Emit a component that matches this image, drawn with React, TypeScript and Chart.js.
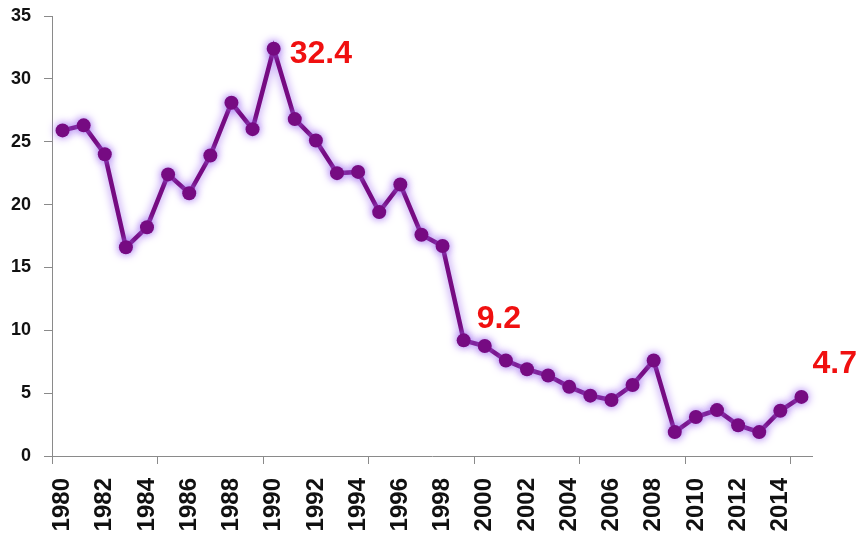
import { useEffect, useRef } from "react";
import { Chart, registerables } from "chart.js";

Chart.register(...registerables);

const years = [
  "1980", "1981", "1982", "1983", "1984", "1985", "1986", "1987", "1988", "1989",
  "1990", "1991", "1992", "1993", "1994", "1995", "1996", "1997", "1998", "1999",
  "2000", "2001", "2002", "2003", "2004", "2005", "2006", "2007", "2008", "2009",
  "2010", "2011", "2012", "2013", "2014", "2015",
];

const values = [
  25.9, 26.3, 24.0, 16.6, 18.2, 22.4, 20.9, 23.9, 28.1, 26.0,
  32.4, 26.8, 25.1, 22.5, 22.6, 19.4, 21.6, 17.6, 16.7, 9.2,
  8.75, 7.6, 6.9, 6.4, 5.5, 4.8, 4.45, 5.65, 7.6, 1.9,
  3.1, 3.65, 2.45, 1.9, 3.6, 4.7,
];

const yTicks = [0, 5, 10, 15, 20, 25, 30, 35];

const calloutIndex = [10, 19, 35];
const calloutText = ["32.4", "9.2", "4.7"];

const calloutOffsets = [
  { dx: 16, dy: 14 },
  { dx: 13, dy: -12 },
  { dx: 11, dy: -24 },
];

const glowPlugin = {
  id: "glow",
  beforeDatasetsDraw(chart: any) {
    const ctx = chart.ctx;
    ctx.save();
    ctx.shadowColor = "rgba(160, 110, 240, 1)";
    ctx.shadowBlur = 10;
    ctx.shadowOffsetX = 0;
    ctx.shadowOffsetY = 0;
  },
  afterDatasetsDraw(chart: any) {
    const ctx = chart.ctx;
    ctx.restore();
    const meta = chart.getDatasetMeta(0);
    ctx.save();
    ctx.fillStyle = "#f01010";
    ctx.font = "bold 32px 'Liberation Sans', Arial, sans-serif";
    ctx.textAlign = "left";
    ctx.textBaseline = "alphabetic";
    calloutIndex.forEach((idx, i) => {
      const pt = meta.data[idx];
      if (!pt) return;
      ctx.fillText(calloutText[i], pt.x + calloutOffsets[i].dx, pt.y + calloutOffsets[i].dy);
    });
    ctx.restore();
  },
};

export default function App() {
  const ref = useRef<HTMLCanvasElement | null>(null);

  useEffect(() => {
    if (!ref.current) return;
    const chart = new Chart(ref.current, {
      type: "line",
      data: {
        labels: years,
        datasets: [
          {
            data: values,
            borderColor: "#760b82",
            backgroundColor: "#760b82",
            borderWidth: 4.5,
            pointRadius: 7,
            pointBorderWidth: 0,
            pointBackgroundColor: "#760b82",
            tension: 0,
          },
        ],
      },
      options: {
        animation: false,
        responsive: false,
        maintainAspectRatio: false,
        layout: { padding: { top: 16, right: 47, left: 0, bottom: 0 } },
        plugins: {
          legend: { display: false },
          tooltip: { enabled: false },
        },
        scales: {
          x: {
            type: "category",
            offset: true,
            afterFit: (s: any) => {
              s.height = 80;
              s.paddingLeft = 0;
              s.paddingRight = 0;
            },
            grid: {
              offset: true,
              drawOnChartArea: false,
              drawTicks: true,
              tickLength: 8,
              color: (c: any) => (c.index % 5 === 0 ? "#8a8a8a" : "rgba(0,0,0,0)"),
            },
            border: { display: true, color: "#8a8a8a", width: 1 },
            ticks: {
              autoSkip: false,
              minRotation: 90,
              maxRotation: 90,
              padding: 14,
              color: "#111",
              font: { family: "'Liberation Sans', Arial, sans-serif", size: 24, weight: "bold" },
              callback: (_v: any, i: number) => (i % 2 === 0 ? years[i] : ""),
            },
          },
          y: {
            min: 0,
            max: 35,
            afterFit: (s: any) => {
              s.width = 52;
              s.paddingTop = 0;
              s.paddingBottom = 0;
            },
            afterBuildTicks: (s: any) => {
              s.ticks = yTicks.map((v) => ({ value: v }));
            },
            grid: {
              drawOnChartArea: false,
              drawTicks: true,
              tickLength: 8,
              color: "#8a8a8a",
            },
            border: { display: true, color: "#8a8a8a", width: 1 },
            ticks: {
              padding: 13,
              color: "#111",
              font: { family: "'Liberation Sans', Arial, sans-serif", size: 18, weight: "bold" },
            },
          },
        },
      },
      plugins: [glowPlugin],
    });
    return () => chart.destroy();
  }, []);

  return (
    <div style={{ position: "fixed", left: 0, top: 0, width: 859, height: 536, background: "#fff" }}>
      <canvas ref={ref} width={859} height={536} style={{ width: 859, height: 536 }} />
    </div>
  );
}
